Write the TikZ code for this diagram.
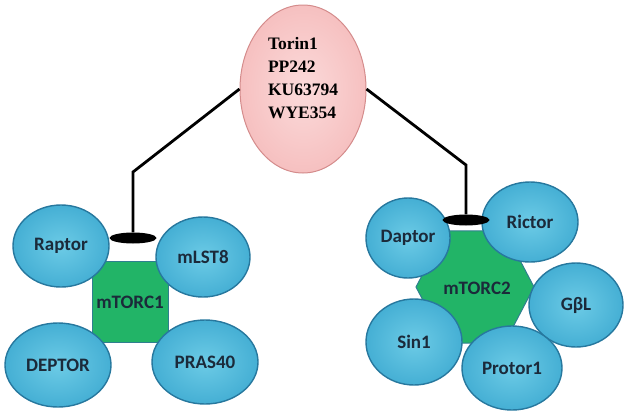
\documentclass[tikz,border=0pt]{standalone}
\usepackage{fontspec}
\setmainfont{Liberation Serif}
\setsansfont{Carlito}
\usepackage{tikz}
\usepackage{xcolor}
\usetikzlibrary{shapes.geometric, positioning}

\definecolor{capfill}{HTML}{45AFD4}
\definecolor{capinner}{HTML}{6CCBE6}
\definecolor{capedge}{HTML}{27789E}
\definecolor{captext}{HTML}{1B2A3A}
\definecolor{corefill}{HTML}{22B467}
\definecolor{coreedge}{HTML}{2F7F8F}
\definecolor{drugfill}{HTML}{F6C0C0}
\definecolor{druginner}{HTML}{FBDADA}
\definecolor{drugedge}{HTML}{D48C8C}

\tikzset{
    partner/.style={ellipse, draw=capedge, line width=1.4pt, shade, inner color=capinner, outer color=capfill,
        text=captext, font=\sffamily\bfseries\fontsize{19}{21}\selectfont, inner sep=0pt},
    core/.style={fill=corefill, draw=coreedge, line width=1pt, font=\sffamily\bfseries\fontsize{19}{21}\selectfont,
        text=captext, inner sep=0pt},
    blocker/.style={ellipse, fill=black, minimum width=47pt, minimum height=11pt, inner sep=0pt},
    inhib/.style={line width=2.8pt, black}
}

\begin{document}
\begin{tikzpicture}[x=1pt, y=-1pt]
                        \useasboundingbox (0,0) rectangle (629,418);
                        \node[ellipse, draw=drugedge, line width=1pt, shade, inner color=druginner, outer color=drugfill,
                            minimum width=126pt, minimum height=168pt] (drug) at (303, 89) {};
                        \node[align=left, font=\bfseries\fontsize{17.5}{23}\selectfont] (druglist) at (303, 78)
                            {Torin1\\PP242\\KU63794\\WYE354};
                        % mTORC1
                        \node[core, rectangle, minimum width=76pt, minimum height=81pt] (mtorc1) at (130, 302) {mTORC1};
                        \node[partner, minimum width=96pt, minimum height=82pt] (raptor) at (61, 246) {Raptor};
                        \node[partner, minimum width=94pt, minimum height=80pt] (mlst8) at (203, 257) {mLST8};
                        \node[partner, minimum width=106pt, minimum height=84pt] (deptor) at (58, 365) {DEPTOR};
                        \node[partner, minimum width=106pt, minimum height=84pt] (pras40) at (205, 362) {PRAS40};
                        % mTORC2
                        \node[core, regular polygon, regular polygon sides=6, minimum size=118pt,
                            yscale=1.1, transform shape] (mtorc2) at (475, 287) {};
                        \node[font=\sffamily\bfseries\fontsize{19}{21}\selectfont, text=captext] (mtorc2txt) at (477, 288) {mTORC2};
                        \node[partner, minimum width=84pt, minimum height=80pt] (daptor) at (408, 238) {Daptor};
                        \node[partner, minimum width=96pt, minimum height=80pt] (rictor) at (530, 222) {Rictor};
                        \node[partner, minimum width=94pt, minimum height=84pt] (gbl) at (576, 305) {GβL};
                        \node[partner, minimum width=96pt, minimum height=86pt] (sin1) at (414, 342) {Sin1};
                        \node[partner, minimum width=100pt, minimum height=84pt] (protor1) at (512, 368) {Protor1};
                        % inhibition
                        \node[blocker] (bar1) at (133, 238) {};
                        \node[blocker] (bar2) at (466, 220) {};
                        \coordinate (k1) at (133, 172);
                        \coordinate (k2) at (466, 165);
                        \draw[inhib] (drug.west) -- (k1) -- (bar1.north);
                        \draw[inhib] (drug.east) -- (k2) -- (bar2.north);
                    \end{tikzpicture}
\end{document}
